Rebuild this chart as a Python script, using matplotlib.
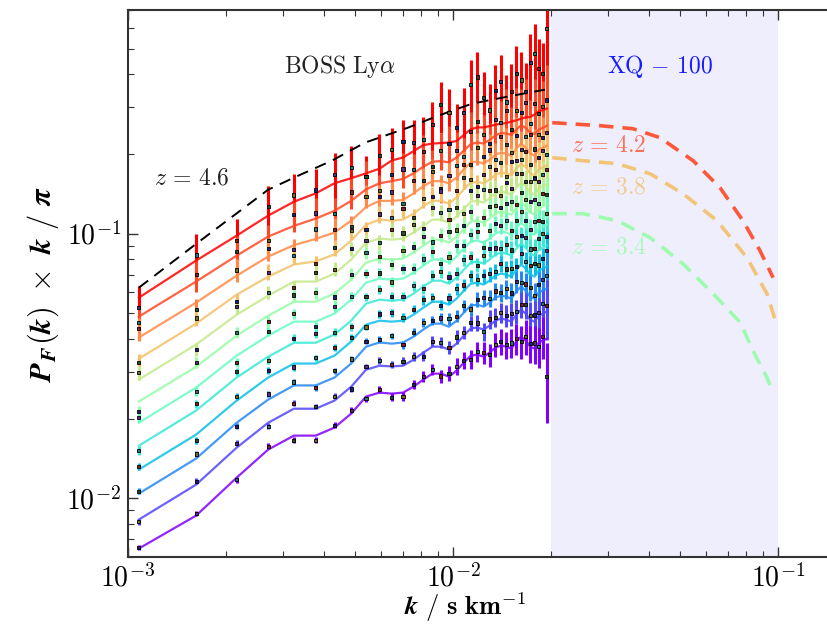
import numpy as np
import matplotlib
matplotlib.use("Agg")
import matplotlib.pyplot as plt
from matplotlib.ticker import FuncFormatter, NullFormatter, LogLocator

plt.rcParams["mathtext.fontset"] = "cm"

# BOSS k bins (s/km)
k_boss = [0.00108, 0.00162, 0.00216, 0.00270, 0.00324, 0.00378, 0.00432, 0.00486, 0.00540,
          0.00594, 0.00648, 0.00702, 0.00756, 0.00810, 0.00864, 0.00918, 0.00972, 0.01026,
          0.01080, 0.01134, 0.01188, 0.01242, 0.01296, 0.01350, 0.01404, 0.01458, 0.01512,
          0.01566, 0.01620, 0.01674, 0.01728, 0.01782, 0.01836, 0.01890, 0.01944]

redshifts = [4.4, 4.2, 4.0, 3.8, 3.6, 3.4, 3.2, 3.0, 2.8, 2.6, 2.4, 2.2]

# model curves, P_F(k) k / pi
model_z44 = [0.0573, 0.0791, 0.0983, 0.117, 0.132, 0.142, 0.155, 0.162, 0.169, 0.176, 0.189, 0.194,
             0.205, 0.216, 0.219, 0.220, 0.221, 0.224, 0.236, 0.248, 0.252, 0.252, 0.255, 0.258,
             0.260, 0.262, 0.265, 0.268, 0.272, 0.275, 0.276, 0.282, 0.290, 0.293, 0.297]
model_z42 = [0.0486, 0.0659, 0.0826, 0.0975, 0.107, 0.114, 0.122, 0.133, 0.147, 0.155, 0.158, 0.161,
             0.169, 0.179, 0.187, 0.188, 0.186, 0.194, 0.206, 0.218, 0.221, 0.219, 0.226, 0.235,
             0.240, 0.239, 0.236, 0.247, 0.257, 0.251, 0.241, 0.238, 0.247, 0.251, 0.256]
model_z40 = [0.0405, 0.0549, 0.0694, 0.0819, 0.0905, 0.0955, 0.101, 0.112, 0.126, 0.133, 0.133, 0.134,
             0.142, 0.151, 0.158, 0.158, 0.155, 0.163, 0.175, 0.186, 0.187, 0.184, 0.190, 0.199,
             0.202, 0.201, 0.197, 0.210, 0.219, 0.211, 0.201, 0.197, 0.208, 0.211, 0.215]
model_z38 = [0.0337, 0.0457, 0.0588, 0.0688, 0.0765, 0.0785, 0.0835, 0.0941, 0.108, 0.113, 0.112, 0.113,
             0.119, 0.127, 0.133, 0.133, 0.130, 0.137, 0.147, 0.156, 0.157, 0.155, 0.160, 0.167,
             0.170, 0.169, 0.166, 0.176, 0.184, 0.178, 0.169, 0.166, 0.175, 0.178, 0.181]
model_z36 = [0.0281, 0.0381, 0.0494, 0.0583, 0.0659, 0.0659, 0.0706, 0.0798, 0.0925, 0.0958, 0.0949,
             0.0958, 0.101, 0.107, 0.113, 0.113, 0.110, 0.116, 0.124, 0.132, 0.133, 0.131, 0.136,
             0.142, 0.144, 0.143, 0.140, 0.149, 0.156, 0.151, 0.143, 0.140, 0.148, 0.151, 0.153]
model_z34 = [0.0232, 0.0314, 0.0412, 0.0490, 0.0553, 0.0553, 0.0594, 0.0670, 0.0777, 0.0805, 0.0798,
             0.0805, 0.0848, 0.0901, 0.0949, 0.0949, 0.0925, 0.0974, 0.104, 0.111, 0.112, 0.110,
             0.114, 0.119, 0.121, 0.120, 0.118, 0.125, 0.131, 0.127, 0.120, 0.118, 0.124, 0.127, 0.129]
model_z32 = [0.0193, 0.0262, 0.0346, 0.0412, 0.0465, 0.0465, 0.0499, 0.0563, 0.0653, 0.0676, 0.0670,
             0.0676, 0.0712, 0.0757, 0.0798, 0.0798, 0.0777, 0.0819, 0.0878, 0.0933, 0.0941, 0.0925,
             0.0958, 0.100, 0.102, 0.101, 0.0991, 0.105, 0.110, 0.106, 0.101, 0.0991, 0.104, 0.106, 0.108]
model_z30 = [0.0158, 0.02145, 0.0286, 0.0343, 0.0387, 0.0387, 0.0416, 0.0469, 0.0544, 0.0563, 0.0558,
             0.0563, 0.0593, 0.0631, 0.0664, 0.0664, 0.0647, 0.0682, 0.0731, 0.0777, 0.0784, 0.0770,
             0.0798, 0.0833, 0.0848, 0.0841, 0.0826, 0.0878, 0.0917, 0.0885, 0.0841, 0.0826, 0.0870,
             0.0885, 0.0901]
model_z28 = [0.01284, 0.0174, 0.0234, 0.0286, 0.0323, 0.0323, 0.0346, 0.0391, 0.0453, 0.0469, 0.0465,
             0.0469, 0.0494, 0.0525, 0.0553, 0.0553, 0.0539, 0.0568, 0.0609, 0.0647, 0.0653, 0.0642,
             0.0665, 0.0694, 0.0706, 0.0700, 0.0688, 0.0731, 0.0764, 0.0738, 0.0700, 0.0688, 0.0725,
             0.0738, 0.0751]
model_z26 = [0.01042, 0.01413, 0.0193, 0.0236, 0.0267, 0.0267, 0.0286, 0.0323, 0.0374, 0.0388, 0.0384,
             0.0388, 0.0408, 0.0434, 0.0457, 0.0457, 0.0445, 0.0469, 0.0503, 0.0535, 0.0539, 0.0530,
             0.0549, 0.0573, 0.0583, 0.0578, 0.0568, 0.0604, 0.0631, 0.0609, 0.0578, 0.0568, 0.0599,
             0.0609, 0.0620]
model_z24 = [0.00831, 0.01126, 0.01554, 0.0193, 0.0218, 0.0218, 0.0234, 0.0264, 0.0306, 0.0317, 0.0315,
             0.0317, 0.0334, 0.0355, 0.0374, 0.0374, 0.0365, 0.0384, 0.0412, 0.0438, 0.0442, 0.0434,
             0.0449, 0.0469, 0.0478, 0.0473, 0.0465, 0.0494, 0.0516, 0.0499, 0.0473, 0.0465, 0.0490,
             0.0499, 0.0508]
model_z22 = [0.00646, 0.0086, 0.01197, 0.01528, 0.01725, 0.01725, 0.0185, 0.02089, 0.02422, 0.02508,
             0.02486, 0.02508, 0.02642, 0.02808, 0.02958, 0.02958, 0.02882, 0.03037, 0.03255, 0.0346,
             0.0349, 0.0343, 0.03552, 0.0371, 0.03775, 0.03742, 0.03677, 0.03908, 0.04082, 0.03942,
             0.03742, 0.03677, 0.03874, 0.03942, 0.04012]

# measured points, percent offset from the model curve
dev_z44 = [-8, 5, -4, 8, 6, 3, 8, 10, -3, 12, 10, 15, 8, 5, 18, 40, 30, 12, 22, 48, 55, 30, 15, 35,
           45, 20, 30, 50, 40, 25, 60, 70, 45, 38, 100]
dev_z42 = [-5, 6, 4, -3, 10, 5, -2, 8, 12, -6, 6, 9, 3, 14, -4, 10, 18, 6, -5, 12, 20, 8, -3, 15,
           10, 22, 5, 18, 12, 25, 8, 30, 15, 20, 25]
dev_z40 = [8, -6, 5, 7, -4, 9, 3, -5, 10, 4, 8, -3, 12, 5, 9, -6, 7, 11, 4, -2, 13, 6, 9, -4, 15,
           8, 3, 12, -5, 10, 18, 6, 14, 9, 12]
dev_z38 = [-3, 5, -6, 4, 8, -2, 6, 9, -4, 5, 3, 10, -3, 7, 4, 9, -5, 6, 11, 3, -4, 8, 12, 5, 9,
           -3, 13, 7, 4, 15, 8, -2, 11, 16, 10]
dev_z36 = [6, -4, 7, 3, -5, 8, 4, 10, 2, -3, 9, 5, 7, -2, 11, 6, 3, 8, -4, 10, 5, 12, 7, 3, -3,
           9, 6, 13, 8, 4, 10, 15, 6, 11, 14]
dev_z34 = [-8, 4, 3, -5, 6, 8, -3, 5, 9, 2, -4, 7, 5, 8, -2, 4, 10, 6, 3, 9, -3, 5, 11, 7, 4,
           8, 12, 3, 9, 6, 10, 14, 5, 12, 9]
dev_z32 = [5, -3, -6, 4, 7, -4, 6, 3, 8, 5, -2, 9, 4, 6, 7, -3, 5, 10, 3, 6, 8, -4, 7, 9, 5,
           11, 4, 7, 10, 6, 3, 12, 8, 5, 10]
dev_z30 = [-4, 6, 5, -3, 4, 8, 2, -5, 6, 9, 4, 3, 7, -2, 5, 8, 6, 4, 9, 5, -3, 7, 10, 6, 4,
           8, 5, 11, 7, 9, 4, 6, 10, 13, 8]
dev_z28 = [3, -5, 4, 6, -3, 5, 7, 4, -2, 6, 8, 3, 5, 7, 4, -3, 6, 9, 5, 7, 3, 8, 6, 4, 9,
           5, 7, 3, 10, 6, 8, 12, 5, 9, 15]
dev_z26 = [2, 4, -3, 5, 3, -2, 6, 4, 5, 3, 7, -2, 4, 6, 3, 5, 7, 4, 6, -3, 5, 8, 4, 6, 3,
           7, 5, 9, 4, 6, 8, 3, 7, 10, 12]
dev_z24 = [-2, 3, 4, -3, 5, 2, 4, -2, 3, 5, 2, 4, 3, -3, 5, 4, 2, 6, 3, 5, 4, -2, 6, 3, 5,
           4, 7, 3, 5, 8, 4, 6, 3, 9, 5]
dev_z22 = [1, 2, -2, 3, -4, -4, 2, 3, -2, 3, -3, -3, 2, 3, 4, -2, 3, 4, 2, -3, 3, 4, -2, 3, 4,
           2, 5, 3, -4, 4, 3, 5, -3, 4, -28]

# relative error at low and high k, and how it grows with k
err_lo = [0.20, 0.14, 0.10, 0.07, 0.06, 0.05, 0.04, 0.035, 0.03, 0.025, 0.025, 0.025]
err_hi = [0.30, 0.25, 0.20, 0.15, 0.12, 0.10, 0.10, 0.10, 0.10, 0.12, 0.14, 0.18]
err_grow = [0, 0, 0, 0, 0, 0, 0, 0, 0, 0.05, 0.05, 0.1, 0.1, 0.15, 0.15, 0.2, 0.25, 0.3, 0.3,
            0.35, 0.4, 0.45, 0.5, 0.5, 0.55, 0.6, 0.65, 0.7, 0.75, 0.8, 0.85, 0.9, 0.95, 1.0, 2.0]

# z = 4.6 curve (black dashed)
k_z46 = [0.00108, 0.00167, 0.00270, 0.00334, 0.00424, 0.00536, 0.00727, 0.0090, 0.01144, 0.0152, 0.0192]
p_z46 = [0.0625, 0.0941, 0.1466, 0.1656, 0.1887, 0.2207, 0.2515, 0.279, 0.3098, 0.332, 0.350]

# XQ-100 curves
k_xq42 = [0.0202, 0.0283, 0.0358, 0.0433, 0.0548, 0.0663, 0.0780, 0.0880, 0.0966]
xq_z42 = [0.2626, 0.2559, 0.2492, 0.2306, 0.1887, 0.1492, 0.1120, 0.0863, 0.0682]
k_xq38 = [0.0202, 0.0251, 0.0320, 0.0404, 0.0510, 0.0649, 0.0803, 0.0925, 0.0993]
xq_z38 = [0.1937, 0.1887, 0.1838, 0.1685, 0.1416, 0.112, 0.0811, 0.0593, 0.0449]
k_xq34 = [0.0202, 0.0251, 0.0320, 0.0404, 0.0510, 0.0649, 0.0766, 0.0838, 0.0925, 0.0966]
xq_z34 = [0.119, 0.119, 0.112, 0.0966, 0.077, 0.0573, 0.0461, 0.0361, 0.0286, 0.0249]

models = [model_z44, model_z42, model_z40, model_z38, model_z36, model_z34,
          model_z32, model_z30, model_z28, model_z26, model_z24, model_z22]
devs = [dev_z44, dev_z42, dev_z40, dev_z38, dev_z36, dev_z34,
        dev_z32, dev_z30, dev_z28, dev_z26, dev_z24, dev_z22]

face_cols = ["#5a2d82", "#2a7a7a", "#8b2020", "#285028", "#707020", "#202080"]

fig = plt.figure(figsize=(8.28, 6.27), dpi=100)
ax = fig.add_axes([128 / 828, 70 / 627, 707.2 / 828, 547 / 627])
ax.set_xscale("log")
ax.set_yscale("log")

ax.axvspan(0.02, 0.1, color=(0.933, 0.933, 0.988), lw=0, zorder=0)

k = np.array(k_boss)
cmap = plt.cm.rainbow
for i, z in enumerate(redshifts):
    c = cmap(1 - i / 11)
    m = np.array(models[i])
    data = m * (1 + np.array(devs[i]) / 100)
    rel = err_lo[i] + (err_hi[i] - err_lo[i]) * np.array(err_grow)
    ax.errorbar(k, data, yerr=data * rel, fmt="none", ecolor=c, elinewidth=2.2,
                capsize=0, zorder=2)
    ax.plot(k, m, color=c, lw=1.6, alpha=0.85, zorder=3)
    fc = [face_cols[(i + n) % len(face_cols)] for n in range(len(k))]
    ax.scatter(k, data, marker="s", s=5, c=fc, edgecolors="k", linewidths=0.6, zorder=4)

ax.plot(k_z46, p_z46, color="k", lw=1.4, dashes=(6, 4), zorder=3)

ax.plot(k_xq42, xq_z42, color=cmap(10 / 11), lw=2.6, dashes=(4, 2.5), alpha=0.9, zorder=3)
ax.plot(k_xq38, xq_z38, color=cmap(8 / 11), lw=2.6, dashes=(4, 2.5), alpha=0.9, zorder=3)
ax.plot(k_xq34, xq_z34, color=cmap(6 / 11), lw=2.6, dashes=(4, 2.5), alpha=0.9, zorder=3)

ax.set_xlim(1e-3, 0.15)
ax.set_ylim(0.006, 0.7)

fmt = FuncFormatter(lambda v, pos: r"$10^{%d}$" % round(np.log10(v)))
ax.xaxis.set_major_formatter(fmt)
ax.yaxis.set_major_formatter(fmt)
ax.xaxis.set_minor_formatter(NullFormatter())
ax.yaxis.set_minor_formatter(NullFormatter())
ax.xaxis.set_minor_locator(LogLocator(subs=np.arange(2, 10), numticks=20))
ax.yaxis.set_minor_locator(LogLocator(subs=np.arange(2, 10), numticks=20))
ax.tick_params(which="both", direction="in", top=True, right=False, colors="#333333",
               labelcolor="k", labelsize=20)
ax.tick_params(which="major", length=7, width=1, pad=5)
ax.tick_params(which="minor", length=4, width=0.8)
for s in ax.spines.values():
    s.set_linewidth(1.5)
    s.set_color("#333333")

ax.set_ylabel(r"$\boldsymbol{P}_{\boldsymbol{F}}\boldsymbol{(k)}\ \times\ \boldsymbol{k}"
              r"\ \boldsymbol{/}\ \boldsymbol{\pi}$", fontsize=22)
ax.set_xlabel(r"$\boldsymbol{k}\ \mathbf{/\ s\ km^{-1}}$", fontsize=19)
ax.xaxis.set_label_coords(0.477, -0.060)

tk = dict(transform=ax.transAxes, ha="center", va="center", fontsize=17)
ax.text(0.300, 0.896, r"$\mathrm{BOSS\ Ly}\alpha$", color="#222222", **tk)
ax.text(0.752, 0.896, r"$\mathrm{XQ\,-\,100}$", color="#1a1aff", **tk)
ax.text(0.0905, 0.693, r"$z\,=\,4.6$", color="#222222", **tk)
ax.text(0.680, 0.753, r"$z\,=\,4.2$", color=cmap(10 / 11), alpha=0.75, **tk)
ax.text(0.680, 0.678, r"$z\,=\,3.8$", color=cmap(8 / 11), alpha=0.75, **tk)
ax.text(0.680, 0.567, r"$z\,=\,3.4$", color=cmap(6 / 11), alpha=0.75, **tk)

fig.savefig("out.png", dpi=100)
